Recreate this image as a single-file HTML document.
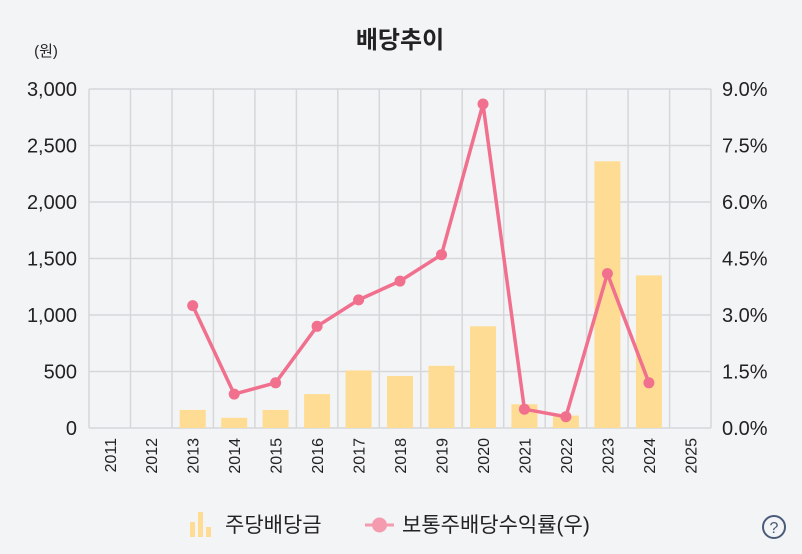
<!DOCTYPE html>
<html><head><meta charset="utf-8"><style>
body{margin:0;background:#f3f4f6;}
svg{display:block;font-family:"Liberation Sans","Noto Sans CJK KR",sans-serif;}
</style></head><body>
<svg width="802" height="554" viewBox="0 0 802 554">
<rect width="802" height="554" fill="#f3f4f6"/>
<text x="400" y="48" text-anchor="middle" font-size="24" font-weight="bold" fill="#222">배당추이</text>
<text x="46" y="56" text-anchor="middle" font-size="15" fill="#222">(원)</text>
<g stroke="#d6d7da" stroke-width="1.5">
<line x1="89" y1="89" x2="711" y2="89"/><line x1="89" y1="145.5" x2="711" y2="145.5"/>
<line x1="89" y1="202" x2="711" y2="202"/><line x1="89" y1="258.5" x2="711" y2="258.5"/>
<line x1="89" y1="315" x2="711" y2="315"/><line x1="89" y1="371.5" x2="711" y2="371.5"/>
<line x1="89" y1="428" x2="711" y2="428"/>
<line x1="89" y1="89" x2="89" y2="428"/><line x1="130.5" y1="89" x2="130.5" y2="428"/>
<line x1="172" y1="89" x2="172" y2="428"/><line x1="213.4" y1="89" x2="213.4" y2="428"/>
<line x1="254.9" y1="89" x2="254.9" y2="428"/><line x1="296.4" y1="89" x2="296.4" y2="428"/>
<line x1="337.8" y1="89" x2="337.8" y2="428"/><line x1="379.3" y1="89" x2="379.3" y2="428"/>
<line x1="420.8" y1="89" x2="420.8" y2="428"/><line x1="462.2" y1="89" x2="462.2" y2="428"/>
<line x1="503.7" y1="89" x2="503.7" y2="428"/><line x1="545.2" y1="89" x2="545.2" y2="428"/>
<line x1="586.6" y1="89" x2="586.6" y2="428"/><line x1="628.1" y1="89" x2="628.1" y2="428"/>
<line x1="669.6" y1="89" x2="669.6" y2="428"/><line x1="711" y1="89" x2="711" y2="428"/>
</g>
<g font-size="20" fill="#222" text-anchor="end">
<text x="77" y="96">3,000</text><text x="77" y="152.5">2,500</text><text x="77" y="209">2,000</text>
<text x="77" y="265.5">1,500</text><text x="77" y="322">1,000</text><text x="77" y="378.5">500</text><text x="77" y="435">0</text>
</g>
<g font-size="20" fill="#222">
<text x="722" y="96">9.0%</text><text x="722" y="152.5">7.5%</text><text x="722" y="209">6.0%</text>
<text x="722" y="265.5">4.5%</text><text x="722" y="322">3.0%</text><text x="722" y="378.5">1.5%</text><text x="722" y="435">0.0%</text>
</g>
<g fill="#fedc93">
<rect x="179.7" y="409.9" width="26" height="18.1"/><rect x="221.2" y="417.8" width="26" height="10.2"/>
<rect x="262.6" y="409.9" width="26" height="18.1"/><rect x="304.1" y="394.1" width="26" height="33.9"/>
<rect x="345.6" y="370.4" width="26" height="57.6"/><rect x="387" y="376" width="26" height="52"/>
<rect x="428.5" y="365.8" width="26" height="62.2"/><rect x="470" y="326.3" width="26" height="101.7"/>
<rect x="511.4" y="404.3" width="26" height="23.7"/><rect x="552.9" y="415.6" width="26" height="12.4"/>
<rect x="594.4" y="161.3" width="26" height="266.7"/><rect x="635.9" y="275.4" width="26" height="152.6"/>
</g>
<polyline fill="none" stroke="#f0708e" stroke-width="3.5" stroke-linejoin="round" points="192.7,305.6 234.2,394.1 275.6,382.8 317.1,326.3 358.6,299.9 400,281.1 441.5,254.7 483,104 524.4,409.2 565.9,416.7 607.4,273.6 648.9,382.8"/>
<g fill="#f0708e">
<circle cx="192.7" cy="305.6" r="5.5"/><circle cx="234.2" cy="394.1" r="5.5"/><circle cx="275.6" cy="382.8" r="5.5"/>
<circle cx="317.1" cy="326.3" r="5.5"/><circle cx="358.6" cy="299.9" r="5.5"/><circle cx="400" cy="281.1" r="5.5"/>
<circle cx="441.5" cy="254.7" r="5.5"/><circle cx="483" cy="104" r="5.5"/><circle cx="524.4" cy="409.2" r="5.5"/>
<circle cx="565.9" cy="416.7" r="5.5"/><circle cx="607.4" cy="273.6" r="5.5"/><circle cx="648.9" cy="382.8" r="5.5"/>
</g>
<g font-size="16" fill="#222" text-anchor="end">
<text transform="translate(116,438) rotate(-90)">2011</text><text transform="translate(157.2,438) rotate(-90)">2012</text>
<text transform="translate(198.7,438) rotate(-90)">2013</text><text transform="translate(240.2,438) rotate(-90)">2014</text>
<text transform="translate(281.6,438) rotate(-90)">2015</text><text transform="translate(323.1,438) rotate(-90)">2016</text>
<text transform="translate(364.6,438) rotate(-90)">2017</text><text transform="translate(406,438) rotate(-90)">2018</text>
<text transform="translate(447.5,438) rotate(-90)">2019</text><text transform="translate(489,438) rotate(-90)">2020</text>
<text transform="translate(530.4,438) rotate(-90)">2021</text><text transform="translate(571.9,438) rotate(-90)">2022</text>
<text transform="translate(613.4,438) rotate(-90)">2023</text><text transform="translate(654.9,438) rotate(-90)">2024</text>
<text transform="translate(696.3,438) rotate(-90)">2025</text>
</g>
<g fill="#fedc93">
<rect x="190" y="522" width="5" height="15"/><rect x="198" y="512" width="5" height="25"/><rect x="206" y="527" width="5" height="10"/>
</g>
<text x="225" y="532" font-size="21" fill="#222">주당배당금</text>
<line x1="365" y1="525" x2="394" y2="525" stroke="#f49bb0" stroke-width="3"/>
<circle cx="379.5" cy="525" r="7.5" fill="#f49bb0"/>
<text x="402" y="532" font-size="21" fill="#222">보통주배당수익률(우)</text>
<circle cx="774" cy="527" r="11" fill="none" stroke="#4a5a7a" stroke-width="2"/>
<text x="774" y="533" text-anchor="middle" font-size="16" fill="#4a5a7a">?</text>
</svg>
</body></html>
